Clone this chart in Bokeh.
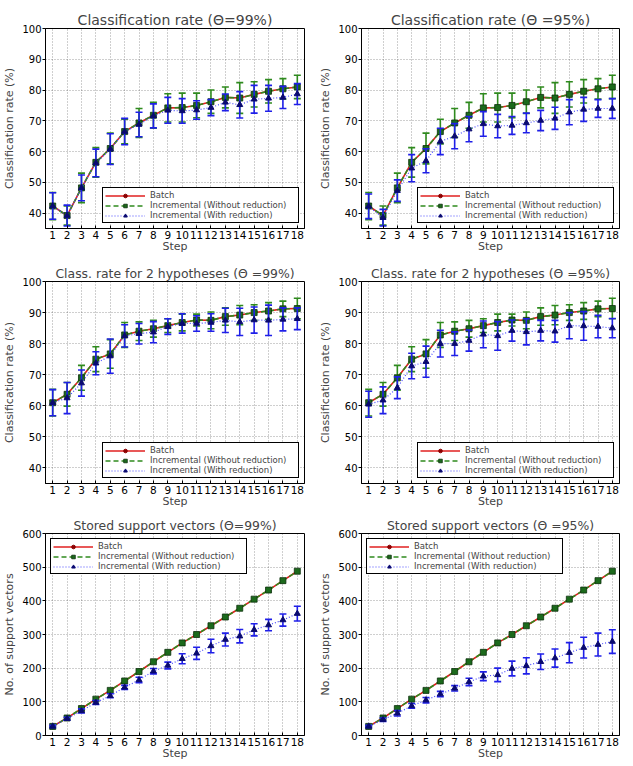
from bokeh.plotting import figure
from bokeh.layouts import column, row
from bokeh.models import Legend, LegendItem, Range1d
from bokeh.embed import file_html
from bokeh.resources import INLINE

# ---- data -------------------------------------------------------------
steps = list(range(1, 19))

# overall classification rate (%)
rate_batch = [42.3, 39.2, 48.2, 56.5, 61.0, 66.5, 69.3, 71.8, 74.2, 74.3, 75.0, 76.2, 77.6, 77.4, 78.6, 79.6, 80.4, 81.0]
rate_incr = [42.3, 39.2, 48.2, 56.5, 61.0, 66.5, 69.3, 71.8, 74.2, 74.3, 75.0, 76.2, 77.6, 77.4, 78.6, 79.6, 80.4, 81.0]
rate_incr_err = [4.4, 3.1, 4.8, 4.8, 5.0, 4.0, 4.7, 4.2, 4.6, 4.7, 4.0, 3.8, 3.4, 5.0, 4.1, 3.8, 3.3, 3.8]
rate_red99 = [42.3, 39.2, 48.2, 56.3, 60.8, 66.5, 68.8, 71.6, 73.4, 73.2, 73.5, 74.3, 76.0, 75.2, 77.0, 77.3, 77.6, 78.7]
rate_red99_err = [4.3, 3.4, 4.2, 4.5, 5.0, 4.3, 4.0, 3.9, 4.2, 4.0, 3.0, 2.6, 2.7, 4.3, 4.5, 4.2, 3.6, 3.4]
rate_red95 = [42.2, 38.5, 47.3, 54.6, 57.0, 63.3, 65.0, 67.3, 69.0, 68.3, 68.5, 69.3, 70.1, 70.8, 72.8, 73.7, 74.0, 74.0]
rate_red95_err = [4.0, 2.7, 3.5, 4.4, 3.9, 4.3, 4.1, 4.1, 4.0, 3.8, 2.9, 3.2, 3.3, 3.6, 4.1, 3.9, 2.9, 3.2]

# classification rate when 2 hypotheses are kept (%)
hyp_batch = [61.0, 63.7, 69.0, 75.0, 76.7, 82.8, 84.0, 84.8, 85.8, 86.8, 87.6, 87.5, 88.7, 89.2, 90.0, 90.5, 91.2, 91.3]
hyp_incr = [61.0, 63.7, 69.0, 75.0, 76.7, 82.8, 84.0, 84.8, 85.8, 86.8, 87.6, 87.5, 88.7, 89.2, 90.0, 90.5, 91.2, 91.3]
hyp_incr_err = [4.3, 3.8, 4.0, 4.0, 4.6, 4.0, 3.0, 2.7, 2.2, 2.7, 1.9, 2.7, 2.8, 3.1, 2.5, 2.7, 2.5, 3.3]
hyp_red99 = [61.0, 62.5, 67.3, 73.7, 76.0, 82.5, 83.2, 83.7, 85.5, 86.5, 86.5, 86.8, 87.5, 87.0, 87.6, 87.5, 87.8, 88.0]
hyp_red99_err = [4.2, 5.0, 4.2, 3.7, 5.5, 3.6, 3.3, 3.4, 2.5, 3.1, 2.5, 2.8, 3.9, 4.4, 4.2, 4.9, 3.7, 3.5]
hyp_red95 = [60.5, 61.8, 65.8, 72.8, 74.2, 80.0, 80.0, 81.0, 83.0, 82.5, 84.2, 83.8, 84.2, 84.0, 85.8, 85.7, 85.5, 85.0]
hyp_red95_err = [4.2, 4.3, 3.5, 4.1, 5.0, 4.3, 3.8, 3.4, 4.3, 4.6, 3.4, 4.2, 3.3, 3.5, 4.2, 4.6, 3.6, 3.1]

# number of stored support vectors
sv_batch = [27, 52, 80, 108, 134, 162, 190, 219, 247, 275, 300, 326, 352, 378, 405, 432, 460, 488]
sv_incr = [27, 52, 80, 108, 134, 162, 190, 219, 247, 275, 300, 326, 352, 378, 405, 432, 460, 488]
sv_incr_err = [0] * 18
sv_red99 = [27, 50, 73, 98, 118, 143, 165, 191, 208, 228, 244, 266, 285, 295, 314, 328, 343, 362]
sv_red99_err = [3, 4, 6, 6, 6, 6, 8, 8, 10, 15, 18, 20, 19, 20, 18, 17, 18, 22]
sv_red95 = [27, 47, 66, 88, 105, 123, 140, 159, 176, 180, 199, 207, 219, 230, 246, 261, 270, 279]
sv_red95_err = [3, 5, 8, 7, 8, 8, 8, 11, 13, 20, 22, 24, 23, 27, 30, 31, 34, 35]

rate_ticks = [40, 50, 60, 70, 80, 90, 100]
sv_ticks = [0, 100, 200, 300, 400, 500, 600]

legend_labels = ["Batch", "Incremental (Without reduction)", "Incremental (With reduction)"]

# ---- styling ----------------------------------------------------------
FONT = "DejaVu Sans"
RED = "#e02020"
RED_DOT = "#8a0000"
GREEN = "#2f8a1e"
GREEN_MK = "#1c6a1c"
BLUE = "#1f1fe8"
BLUE_LINE = "#4a4aff"
NAVY = "#0a0a70"


def errorbars(p, x, y, err, color, draw):
    if not draw:
        return
    lo = [v - e for v, e in zip(y, err)]
    hi = [v + e for v, e in zip(y, err)]
    p.segment(x0=x, y0=lo, x1=x, y1=hi, line_color=color, line_width=1.6)
    p.scatter(x=x + x, y=lo + hi, marker="dash", size=7, line_color=color, line_width=1.6)


def panel(title, title_size, ylabel, yr, yticks, batch, incr, incr_err, red, red_err,
          legend_loc, width, height, borders, incr_bars=True):
    left, right, top, bottom = borders
    p = figure(width=width, height=height,
               x_range=Range1d(0.5, 18.5), y_range=Range1d(*yr),
               output_backend="svg", toolbar_location=None,
               min_border_left=left, min_border_right=right,
               min_border_top=top, min_border_bottom=bottom,
               background_fill_color="white", border_fill_color="white")

    p.title.text = title
    p.title.text_font = FONT
    p.title.text_font_size = title_size
    p.title.text_font_style = "normal"
    p.title.align = "center"
    p.title.standoff = 2

    p.outline_line_color = "black"
    p.outline_line_width = 1
    p.outline_line_alpha = 1

    p.xaxis.ticker = steps
    p.yaxis.ticker = yticks
    p.xaxis.axis_label = "Step"
    p.yaxis.axis_label = ylabel
    for ax in (p.xaxis, p.yaxis):
        ax.axis_label_text_font = FONT
        ax.axis_label_text_font_size = "11px"
        ax.axis_label_text_font_style = "normal"
        ax.major_label_text_font = FONT
        ax.major_label_text_color = "black"
        ax.axis_line_color = "black"
        ax.major_tick_line_color = "black"
        ax.minor_tick_line_color = None
    p.xaxis.major_label_text_font_size = "10.5px"
    p.yaxis.major_label_text_font_size = "10px"
    p.xaxis.major_tick_in = 3
    p.xaxis.major_tick_out = 0
    p.xaxis.major_label_standoff = 2
    p.xaxis.axis_label_standoff = -2
    p.yaxis.major_tick_in = 0
    p.yaxis.major_tick_out = 3
    p.yaxis.major_label_standoff = 1
    p.yaxis.axis_label_standoff = 3

    p.grid.grid_line_color = "black"
    p.grid.grid_line_alpha = 0.55
    p.grid.grid_line_dash = "1 2"
    p.grid.grid_line_width = 0.7

    # batch
    r_b = p.line(steps, batch, line_color=RED, line_width=1.6)
    m_b = p.scatter(steps, batch, marker="circle", size=3.5, fill_color=RED_DOT, line_color=RED_DOT)

    # incremental without reduction
    errorbars(p, steps, incr, incr_err, GREEN, incr_bars)
    r_i = p.line(steps, incr, line_color=GREEN, line_width=1.6, line_dash="5 3")
    m_i = p.scatter(steps, incr, marker="square", size=6, fill_color=GREEN_MK, line_color="#0c300c", line_width=0.8)

    # incremental with reduction
    errorbars(p, steps, red, red_err, BLUE, True)
    r_r = p.line(steps, red, line_color=BLUE_LINE, line_width=1.2, line_dash="1 2")
    m_r = p.scatter(steps, red, marker="triangle", size=6, fill_color=NAVY, line_color=NAVY)

    legend = Legend(items=[
        LegendItem(label=legend_labels[0], renderers=[r_b, m_b]),
        LegendItem(label=legend_labels[1], renderers=[r_i, m_i]),
        LegendItem(label=legend_labels[2], renderers=[r_r, m_r]),
    ])
    legend.location = legend_loc
    legend.margin = 5
    legend.padding = 2
    legend.spacing = 0
    legend.glyph_width = 40
    legend.glyph_height = 9
    legend.label_height = 9
    legend.label_width = 146
    legend.label_standoff = 5
    legend.label_text_font = FONT
    legend.label_text_font_size = "8.5px"
    legend.border_line_color = "black"
    legend.border_line_width = 1
    legend.border_line_alpha = 1
    legend.background_fill_color = "white"
    legend.background_fill_alpha = 1
    p.add_layout(legend, "center")
    return p


p1 = panel("Classification rate (Θ=99%)", "14px", "Classification rate (%)", (35, 100), rate_ticks,
           rate_batch, rate_incr, rate_incr_err, rate_red99, rate_red99_err,
           "bottom_right", 316, 255, (43, 12, 28, 24))
p2 = panel("Classification rate (Θ =95%)", "14px", "Classification rate (%)", (35, 100), rate_ticks,
           rate_batch, rate_incr, rate_incr_err, rate_red95, rate_red95_err,
           "bottom_right", 317, 255, (42, 14, 28, 24))
p3 = panel("Class. rate for 2 hypotheses (Θ =99%)", "12.4px", "Classification rate (%)", (35, 100), rate_ticks,
           hyp_batch, hyp_incr, hyp_incr_err, hyp_red99, hyp_red99_err,
           "bottom_right", 316, 255, (43, 12, 26, 27))
p4 = panel("Class. rate for 2 hypotheses (Θ =95%)", "12.4px", "Classification rate (%)", (35, 100), rate_ticks,
           hyp_batch, hyp_incr, hyp_incr_err, hyp_red95, hyp_red95_err,
           "bottom_right", 317, 255, (42, 14, 26, 27))
p5 = panel("Stored support vectors (Θ=99%)", "12.4px", "No. of support vectors", (0, 600), sv_ticks,
           sv_batch, sv_incr, sv_incr_err, sv_red99, sv_red99_err,
           "top_left", 316, 256, (43, 12, 23, 31), incr_bars=False)
p6 = panel("Stored support vectors (Θ =95%)", "12.4px", "No. of support vectors", (0, 600), sv_ticks,
           sv_batch, sv_incr, sv_incr_err, sv_red95, sv_red95_err,
           "top_left", 317, 256, (42, 14, 23, 31), incr_bars=False)

layout = column(row(p1, p2), row(p3, p4), row(p5, p6))

open("out.html", "w").write(file_html(layout, INLINE))
